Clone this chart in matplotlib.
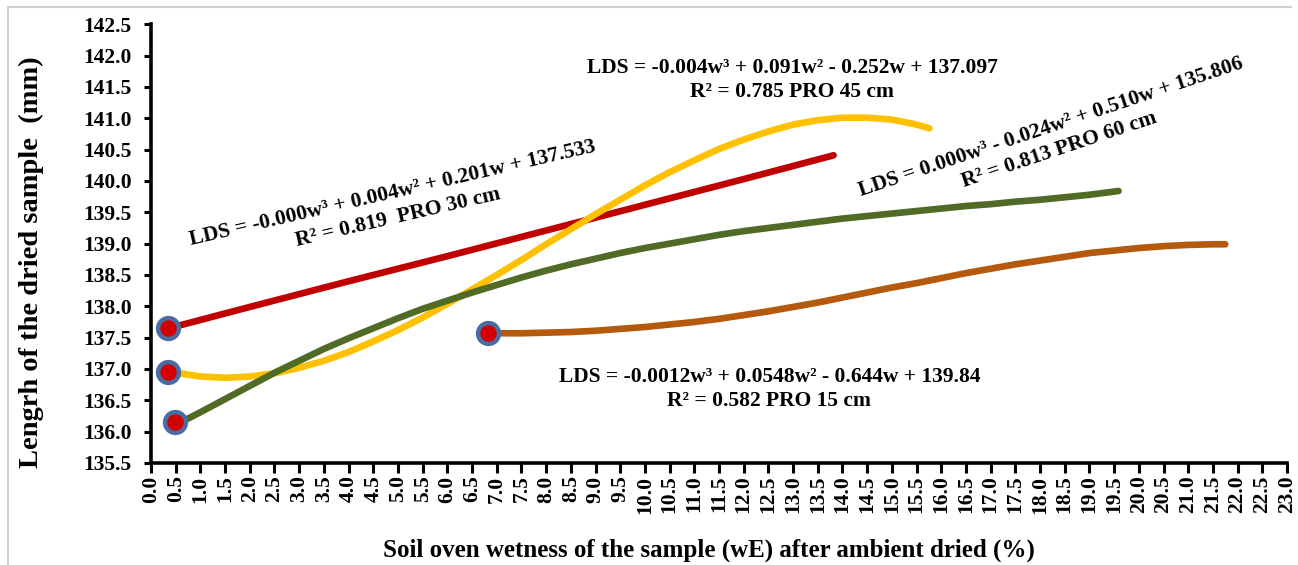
import matplotlib
matplotlib.use("Agg")
import matplotlib.pyplot as plt
from matplotlib.lines import Line2D

# ---------------- data ----------------
w_30 = [0.36, 2.0, 4.0, 6.0, 8.0, 10.0, 12.0, 13.82]
lds_30 = [137.65, 137.99, 138.40, 138.80, 139.21, 139.62, 140.03, 140.41]

w_45 = [0.36, 0.5, 1.0, 1.5, 2.0, 2.5, 3.0, 3.5, 4.0, 4.5, 5.0, 5.5, 6.0, 6.5, 7.0, 7.5, 8.0,
        8.5, 9.0, 9.5, 10.0, 10.5, 11.0, 11.5, 12.0, 12.5, 13.0, 13.5, 14.0, 14.5, 15.0,
        15.5, 15.76]
lds_45 = [136.96, 136.94, 136.88, 136.86, 136.88, 136.93, 137.02, 137.13, 137.27, 137.44,
          137.62, 137.82, 138.04, 138.27, 138.50, 138.74, 138.99, 139.23, 139.47, 139.70,
          139.93, 140.14, 140.33, 140.51, 140.66, 140.79, 140.90, 140.97, 141.01, 141.01,
          140.98, 140.90, 140.84]

w_60 = [0.48, 1.0, 1.5, 2.0, 2.5, 3.0, 3.5, 4.0, 4.5, 5.0, 5.5, 6.0, 6.5, 7.0, 7.5, 8.0,
        8.5, 9.0, 9.5, 10.0, 10.5, 11.0, 11.5, 12.0, 12.5, 13.0, 13.5, 14.0, 14.5, 15.0,
        15.5, 16.0, 16.5, 17.0, 17.5, 18.0, 18.5, 19.0, 19.59]
lds_60 = [136.10, 136.31, 136.52, 136.73, 136.94, 137.13, 137.32, 137.49, 137.65, 137.81,
          137.96, 138.09, 138.22, 138.34, 138.46, 138.57, 138.67, 138.76, 138.85, 138.93,
          139.00, 139.07, 139.14, 139.20, 139.25, 139.30, 139.35, 139.40, 139.44, 139.48,
          139.52, 139.56, 139.60, 139.63, 139.67, 139.70, 139.74, 139.78, 139.84]

w_15 = [6.82, 7.0, 7.5, 8.0, 8.5, 9.0, 9.5, 10.0, 10.5, 11.0, 11.5, 12.0, 12.5, 13.0, 13.5,
        14.0, 14.5, 15.0, 15.5, 16.0, 16.5, 17.0, 17.5, 18.0, 18.5, 19.0, 19.5, 20.0, 20.5,
        21.0, 21.5, 21.75]
lds_15 = [137.57, 137.57, 137.57, 137.58, 137.59, 137.61, 137.64, 137.67, 137.71, 137.75,
          137.80, 137.86, 137.92, 137.99, 138.06, 138.14, 138.22, 138.30, 138.37, 138.45,
          138.53, 138.60, 138.67, 138.73, 138.79, 138.85, 138.89, 138.93, 138.96, 138.98,
          138.99, 138.99]

start_w = [0.35, 0.35, 0.49, 6.82]
start_lds = [137.65, 136.95, 136.15, 137.57]

x_ticks = [i * 0.5 for i in range(47)]
y_ticks = [135.5 + i * 0.5 for i in range(15)]

eq_30 = "LDS = -0.000w\u00b3 + 0.004w\u00b2 + 0.201w + 137.533\nR\u00b2 = 0.819  PRO 30 cm"
eq_45 = "LDS = -0.004w\u00b3 + 0.091w\u00b2 - 0.252w + 137.097\nR\u00b2 = 0.785 PRO 45 cm"
eq_60 = "LDS = 0.000w\u00b3 - 0.024w\u00b2 + 0.510w + 135.806\nR\u00b2 = 0.813 PRO 60 cm"
eq_15 = "LDS = -0.0012w\u00b3 + 0.0548w\u00b2 - 0.644w + 139.84\nR\u00b2 = 0.582 PRO 15 cm"

x_label = "Soil oven wetness of the sample (wE) after ambient dried (%)"
y_label = "Lengrh of the dried sample  (mm)"

# ---------------- figure ----------------
plt.rcParams['font.family'] = ['Liberation Serif', 'DejaVu Serif']
plt.rcParams['font.weight'] = 'bold'

W, H = 1298, 565
fig = plt.figure(figsize=(W / 100, H / 100), dpi=100)
ax = fig.add_axes([151 / W, 1 - 463 / H, (1287 - 151) / W, (463 - 24.3) / H])

lw = 4.8
ax.plot(w_30, lds_30, color='#c00000', lw=lw, solid_capstyle='round', solid_joinstyle='round', zorder=3)
ax.plot(w_45, lds_45, color='#ffc000', lw=lw, solid_capstyle='round', solid_joinstyle='round', zorder=3)
ax.plot(w_60, lds_60, color='#4f6b25', lw=lw, solid_capstyle='round', solid_joinstyle='round', zorder=3)
ax.plot(w_15, lds_15, color='#b5590d', lw=lw, solid_capstyle='round', solid_joinstyle='round', zorder=3)
ax.plot(start_w, start_lds, linestyle='none', marker='o', markersize=15,
        markerfacecolor='#d40000', markeredgecolor='#4a6ca5', markeredgewidth=3.2, zorder=4)

ax.set_xlim(0, 23)
ax.set_ylim(135.5, 142.5)
ax.set_xticks(x_ticks)
ax.set_xticklabels([f"{v:.1f}" for v in x_ticks], rotation=90, fontsize=15.5, fontweight='bold')
ax.set_yticks(y_ticks)
ax.set_yticklabels([f"{v:.1f}" for v in y_ticks], fontsize=15.5, fontweight='bold')
ax.tick_params(axis='y', direction='out', length=5, width=2.2, pad=9)
ax.tick_params(axis='x', direction='out', length=7, width=2.2, pad=2)
for s in ['top', 'right']:
    ax.spines[s].set_visible(False)
for s in ['left', 'bottom']:
    ax.spines[s].set_linewidth(2.6)
ax.set_facecolor('white')

tk = dict(fontsize=15.5, fontweight='bold', ha='center', va='center',
          multialignment='center', linespacing=1.3, rotation_mode='anchor', zorder=5)
ax.text(4.94, 139.61, eq_30, rotation=13, **tk)
ax.text(12.98, 141.61, eq_45, rotation=0, **tk)
ax.text(18.31, 140.68, eq_60, rotation=18.5, **tk)
ax.text(12.52, 136.68, eq_15, rotation=0, **tk)

fig.text(709 / W, 1 - 550 / H, x_label, fontsize=18, fontweight='bold', ha='center', va='center')
fig.text(31 / W, 1 - 262 / H, y_label, fontsize=20.5, fontweight='bold', ha='center', va='center',
         rotation=90)

# light frame lines of the original picture
fig.add_artist(Line2D([8 / W, 1291 / W], [1 - 7 / H, 1 - 7 / H], color='#d0d0d0', lw=1.5,
                      transform=fig.transFigure))
fig.add_artist(Line2D([8 / W, 8 / W], [1 - 7 / H, 0], color='#d0d0d0', lw=1.5,
                      transform=fig.transFigure))

fig.savefig("out.png", dpi=100, facecolor='white')
